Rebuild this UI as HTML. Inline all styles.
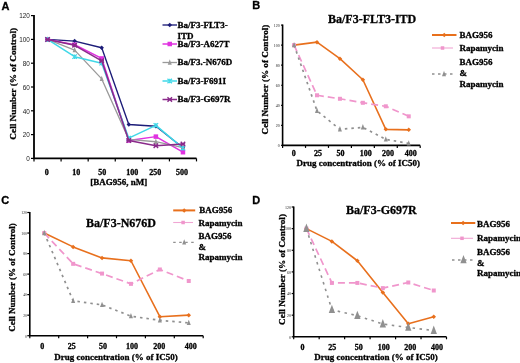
<!DOCTYPE html>
<html><head><meta charset="utf-8"><style>
html,body{margin:0;padding:0;background:#fff;}
body{width:520px;height:363px;overflow:hidden;}
svg{display:block;}
</style></head><body>
<svg width="520" height="363" viewBox="0 0 520 363">
<defs><filter id="soft" x="-5%" y="-5%" width="110%" height="110%"><feGaussianBlur stdDeviation="0.35"/></filter></defs>
<rect width="520" height="363" fill="#fff"/>
<g filter="url(#soft)">
<path d="M34,15.1V158.4H196.5" stroke="#000" stroke-width="1.8" fill="none"/>
<path d="M31,158.40H34" stroke="#000" stroke-width="1.2"/>
<text x="0" y="0" font-family='"Liberation Sans", sans-serif' font-size="8.0" text-anchor="end" fill="#222" transform="translate(29.80,161.28) scale(0.8,1)">0</text>
<path d="M31,134.60H34" stroke="#000" stroke-width="1.2"/>
<text x="0" y="0" font-family='"Liberation Sans", sans-serif' font-size="8.0" text-anchor="end" fill="#222" transform="translate(29.80,137.48) scale(0.8,1)">20</text>
<path d="M31,110.80H34" stroke="#000" stroke-width="1.2"/>
<text x="0" y="0" font-family='"Liberation Sans", sans-serif' font-size="8.0" text-anchor="end" fill="#222" transform="translate(29.80,113.68) scale(0.8,1)">40</text>
<path d="M31,87.00H34" stroke="#000" stroke-width="1.2"/>
<text x="0" y="0" font-family='"Liberation Sans", sans-serif' font-size="8.0" text-anchor="end" fill="#222" transform="translate(29.80,89.88) scale(0.8,1)">60</text>
<path d="M31,63.20H34" stroke="#000" stroke-width="1.2"/>
<text x="0" y="0" font-family='"Liberation Sans", sans-serif' font-size="8.0" text-anchor="end" fill="#222" transform="translate(29.80,66.08) scale(0.8,1)">80</text>
<path d="M31,39.40H34" stroke="#000" stroke-width="1.2"/>
<text x="0" y="0" font-family='"Liberation Sans", sans-serif' font-size="8.0" text-anchor="end" fill="#222" transform="translate(29.80,42.28) scale(0.8,1)">100</text>
<path d="M31,15.60H34" stroke="#000" stroke-width="1.2"/>
<text x="0" y="0" font-family='"Liberation Sans", sans-serif' font-size="8.0" text-anchor="end" fill="#222" transform="translate(29.80,18.48) scale(0.8,1)">120</text>
<path d="M34.00,158.4V161.4" stroke="#000" stroke-width="1.2"/>
<path d="M61.08,158.4V161.4" stroke="#000" stroke-width="1.2"/>
<path d="M88.17,158.4V161.4" stroke="#000" stroke-width="1.2"/>
<path d="M115.25,158.4V161.4" stroke="#000" stroke-width="1.2"/>
<path d="M142.33,158.4V161.4" stroke="#000" stroke-width="1.2"/>
<path d="M169.42,158.4V161.4" stroke="#000" stroke-width="1.2"/>
<path d="M196.50,158.4V161.4" stroke="#000" stroke-width="1.2"/>
<text x="46.80" y="175.00" font-family='"Liberation Serif", serif' font-weight="bold" font-size="8" text-anchor="middle" fill="#000" stroke="#000" stroke-width="0.3" >0</text>
<text x="76.20" y="175.00" font-family='"Liberation Serif", serif' font-weight="bold" font-size="8" text-anchor="middle" fill="#000" stroke="#000" stroke-width="0.3" >10</text>
<text x="102.20" y="175.00" font-family='"Liberation Serif", serif' font-weight="bold" font-size="8" text-anchor="middle" fill="#000" stroke="#000" stroke-width="0.3" >50</text>
<text x="132.30" y="175.00" font-family='"Liberation Serif", serif' font-weight="bold" font-size="8" text-anchor="middle" fill="#000" stroke="#000" stroke-width="0.3" >100</text>
<text x="155.20" y="175.00" font-family='"Liberation Serif", serif' font-weight="bold" font-size="8" text-anchor="middle" fill="#000" stroke="#000" stroke-width="0.3" >250</text>
<text x="182.00" y="175.00" font-family='"Liberation Serif", serif' font-weight="bold" font-size="8" text-anchor="middle" fill="#000" stroke="#000" stroke-width="0.3" >500</text>
<text x="90.20" y="184.80" font-family='"Liberation Serif", serif' font-weight="bold" font-size="9" text-anchor="start" fill="#000" stroke="#000" stroke-width="0.3" >[BAG956, nM]</text>
<text x="0" y="0" font-family='"Liberation Serif", serif' font-weight="bold" font-size="9.25" text-anchor="middle" transform="translate(13.2,83.8) rotate(-90)" dominant-baseline="central" stroke="#000" stroke-width="0.3">Cell Number (% of Control)</text>
<polyline points="47.54,39.40 74.62,41.07 101.71,47.73 128.79,124.48 155.88,126.27 182.96,147.69" stroke="#1c1c78" stroke-width="1.35" fill="none"  stroke-linejoin="round"/>
<polygon points="47.541666666666664,37.14999999999999 49.791666666666664,39.39999999999999 47.541666666666664,41.64999999999999 45.291666666666664,39.39999999999999" fill="#1c1c78"/>
<polygon points="74.625,38.816 76.875,41.066 74.625,43.316 72.375,41.066" fill="#1c1c78"/>
<polygon points="101.70833333333333,45.47999999999999 103.95833333333333,47.72999999999999 101.70833333333333,49.97999999999999 99.45833333333333,47.72999999999999" fill="#1c1c78"/>
<polygon points="128.79166666666666,122.235 131.04166666666666,124.485 128.79166666666666,126.735 126.54166666666666,124.485" fill="#1c1c78"/>
<polygon points="155.875,124.02000000000001 158.125,126.27000000000001 155.875,128.52 153.625,126.27000000000001" fill="#1c1c78"/>
<polygon points="182.95833333333331,145.44 185.20833333333331,147.69 182.95833333333331,149.94 180.70833333333331,147.69" fill="#1c1c78"/>
<polyline points="47.54,39.40 74.62,44.75 101.71,58.44 128.79,140.55 155.88,136.62 182.96,152.21" stroke="#e030e0" stroke-width="1.5" fill="none"  stroke-linejoin="round"/>
<rect x="45.291666666666664" y="37.14999999999999" width="4.5" height="4.5" fill="#e030e0"/>
<rect x="72.375" y="42.504999999999995" width="4.5" height="4.5" fill="#e030e0"/>
<rect x="99.45833333333333" y="56.19" width="4.5" height="4.5" fill="#e030e0"/>
<rect x="126.54166666666666" y="138.3" width="4.5" height="4.5" fill="#e030e0"/>
<rect x="153.625" y="134.373" width="4.5" height="4.5" fill="#e030e0"/>
<rect x="180.70833333333331" y="149.96200000000002" width="4.5" height="4.5" fill="#e030e0"/>
<polyline points="47.54,39.40 74.62,50.11 101.71,78.91 128.79,139.36 155.88,141.74 182.96,147.69" stroke="#9a9a9a" stroke-width="1.3" fill="none"  stroke-linejoin="round"/>
<polygon points="47.54,36.16 49.57,41.56 45.52,41.56" fill="#9a9a9a"/>
<polygon points="74.62,46.87 76.65,52.27 72.60,52.27" fill="#9a9a9a"/>
<polygon points="101.71,75.67 103.73,81.07 99.68,81.07" fill="#9a9a9a"/>
<polygon points="128.79,136.12 130.82,141.52 126.77,141.52" fill="#9a9a9a"/>
<polygon points="155.88,138.50 157.90,143.90 153.85,143.90" fill="#9a9a9a"/>
<polygon points="182.96,144.45 184.98,149.85 180.93,149.85" fill="#9a9a9a"/>
<polyline points="47.54,39.40 74.62,56.65 101.71,63.20 128.79,138.17 155.88,125.32 182.96,148.17" stroke="#40d8e8" stroke-width="1.5" fill="none"  stroke-linejoin="round"/>
<path d="M45.291666666666664,37.14999999999999L49.791666666666664,41.64999999999999M45.291666666666664,41.64999999999999L49.791666666666664,37.14999999999999M47.541666666666664,37.14999999999999V41.64999999999999" stroke="#40d8e8" stroke-width="1.2" fill="none"/>
<path d="M72.375,54.40499999999999L76.875,58.90499999999999M72.375,58.90499999999999L76.875,54.40499999999999M74.625,54.40499999999999V58.90499999999999" stroke="#40d8e8" stroke-width="1.2" fill="none"/>
<path d="M99.45833333333333,60.94999999999999L103.95833333333333,65.44999999999999M99.45833333333333,65.44999999999999L103.95833333333333,60.94999999999999M101.70833333333333,60.94999999999999V65.44999999999999" stroke="#40d8e8" stroke-width="1.2" fill="none"/>
<path d="M126.54166666666666,135.92000000000002L131.04166666666666,140.42000000000002M126.54166666666666,140.42000000000002L131.04166666666666,135.92000000000002M128.79166666666666,135.92000000000002V140.42000000000002" stroke="#40d8e8" stroke-width="1.2" fill="none"/>
<path d="M153.625,123.068L158.125,127.568M153.625,127.568L158.125,123.068M155.875,123.068V127.568" stroke="#40d8e8" stroke-width="1.2" fill="none"/>
<path d="M180.70833333333331,145.916L185.20833333333331,150.416M180.70833333333331,150.416L185.20833333333331,145.916M182.95833333333331,145.916V150.416" stroke="#40d8e8" stroke-width="1.2" fill="none"/>
<polyline points="47.54,39.40 74.62,45.35 101.71,60.82 128.79,140.55 155.88,145.67 182.96,143.88" stroke="#8a2a8a" stroke-width="1.5" fill="none"  stroke-linejoin="round"/>
<path d="M45.291666666666664,37.14999999999999L49.791666666666664,41.64999999999999M45.291666666666664,41.64999999999999L49.791666666666664,37.14999999999999M45.291666666666664,39.39999999999999H49.791666666666664" stroke="#8a2a8a" stroke-width="1.4" fill="none"/>
<path d="M72.375,43.099999999999994L76.875,47.599999999999994M72.375,47.599999999999994L76.875,43.099999999999994M72.375,45.349999999999994H76.875" stroke="#8a2a8a" stroke-width="1.4" fill="none"/>
<path d="M99.45833333333333,58.56999999999999L103.95833333333333,63.06999999999999M99.45833333333333,63.06999999999999L103.95833333333333,58.56999999999999M99.45833333333333,60.81999999999999H103.95833333333333" stroke="#8a2a8a" stroke-width="1.4" fill="none"/>
<path d="M126.54166666666666,138.3L131.04166666666666,142.8M126.54166666666666,142.8L131.04166666666666,138.3M126.54166666666666,140.55H131.04166666666666" stroke="#8a2a8a" stroke-width="1.4" fill="none"/>
<path d="M153.625,143.417L158.125,147.917M153.625,147.917L158.125,143.417M153.625,145.667H158.125" stroke="#8a2a8a" stroke-width="1.4" fill="none"/>
<path d="M180.70833333333331,141.632L185.20833333333331,146.132M180.70833333333331,146.132L185.20833333333331,141.632M180.70833333333331,143.882H185.20833333333331" stroke="#8a2a8a" stroke-width="1.4" fill="none"/>
<line x1="162.5" y1="25" x2="177" y2="25" stroke="#1c1c78" stroke-width="1.35" />
<polygon points="169.75,22.75 172.0,25 169.75,27.25 167.5,25" fill="#1c1c78"/>
<text x="177.50" y="27.97" font-family='"Liberation Serif", serif' font-weight="bold" font-size="9" text-anchor="start" fill="#000" stroke="#000" stroke-width="0.3" >Ba/F3-FLT3-</text>
<text x="177.50" y="38.97" font-family='"Liberation Serif", serif' font-weight="bold" font-size="9" text-anchor="start" fill="#000" stroke="#000" stroke-width="0.3" >ITD</text>
<line x1="162.5" y1="44" x2="177" y2="44" stroke="#e030e0" stroke-width="1.5" />
<rect x="167.5" y="41.75" width="4.5" height="4.5" fill="#e030e0"/>
<text x="177.50" y="46.97" font-family='"Liberation Serif", serif' font-weight="bold" font-size="9" text-anchor="start" fill="#000" stroke="#000" stroke-width="0.3" >Ba/F3-A627T</text>
<line x1="162.5" y1="62.5" x2="177" y2="62.5" stroke="#9a9a9a" stroke-width="1.3" />
<polygon points="169.75,59.26 171.78,64.66 167.72,64.66" fill="#9a9a9a"/>
<text x="177.50" y="65.47" font-family='"Liberation Serif", serif' font-weight="bold" font-size="9" text-anchor="start" fill="#000" stroke="#000" stroke-width="0.3" >Ba/F3.-N676D</text>
<line x1="162.5" y1="81" x2="177" y2="81" stroke="#40d8e8" stroke-width="1.5" />
<path d="M167.5,78.75L172.0,83.25M167.5,83.25L172.0,78.75M169.75,78.75V83.25" stroke="#40d8e8" stroke-width="1.2" fill="none"/>
<text x="177.50" y="83.97" font-family='"Liberation Serif", serif' font-weight="bold" font-size="9" text-anchor="start" fill="#000" stroke="#000" stroke-width="0.3" >Ba/F3-F691I</text>
<line x1="162.5" y1="99.5" x2="177" y2="99.5" stroke="#8a2a8a" stroke-width="1.5" />
<path d="M167.5,97.25L172.0,101.75M167.5,101.75L172.0,97.25M167.5,99.5H172.0" stroke="#8a2a8a" stroke-width="1.4" fill="none"/>
<text x="177.50" y="102.47" font-family='"Liberation Serif", serif' font-weight="bold" font-size="9" text-anchor="start" fill="#000" stroke="#000" stroke-width="0.3" >Ba/F3-G697R</text>
<text x="1.50" y="10.20" font-family='"Liberation Sans", sans-serif' font-weight="bold" font-size="10.2" text-anchor="start" fill="#000" stroke="#000" stroke-width="0.3" transform="translate(1.50,10.20) scale(1.08,1) translate(-1.50,-10.20)">A</text>
<path d="M282.6,24.6V145.4H420.2" stroke="#000" stroke-width="1.6" fill="none"/>
<path d="M281.1,145.40H282.6" stroke="#000" stroke-width="1.2"/>
<text x="0" y="0" font-family='"Liberation Serif", serif' font-size="5.0" text-anchor="end" fill="#222" transform="translate(279.80,147.20) scale(0.8,1)">0</text>
<path d="M281.1,125.35H282.6" stroke="#000" stroke-width="1.2"/>
<text x="0" y="0" font-family='"Liberation Serif", serif' font-size="5.0" text-anchor="end" fill="#222" transform="translate(279.80,127.15) scale(0.8,1)">20</text>
<path d="M281.1,105.30H282.6" stroke="#000" stroke-width="1.2"/>
<text x="0" y="0" font-family='"Liberation Serif", serif' font-size="5.0" text-anchor="end" fill="#222" transform="translate(279.80,107.10) scale(0.8,1)">40</text>
<path d="M281.1,85.25H282.6" stroke="#000" stroke-width="1.2"/>
<text x="0" y="0" font-family='"Liberation Serif", serif' font-size="5.0" text-anchor="end" fill="#222" transform="translate(279.80,87.05) scale(0.8,1)">60</text>
<path d="M281.1,65.20H282.6" stroke="#000" stroke-width="1.2"/>
<text x="0" y="0" font-family='"Liberation Serif", serif' font-size="5.0" text-anchor="end" fill="#222" transform="translate(279.80,67.00) scale(0.8,1)">80</text>
<path d="M281.1,45.15H282.6" stroke="#000" stroke-width="1.2"/>
<text x="0" y="0" font-family='"Liberation Serif", serif' font-size="5.0" text-anchor="end" fill="#222" transform="translate(279.80,46.95) scale(0.8,1)">100</text>
<path d="M281.1,25.10H282.6" stroke="#000" stroke-width="1.2"/>
<text x="0" y="0" font-family='"Liberation Serif", serif' font-size="5.0" text-anchor="end" fill="#222" transform="translate(279.80,26.90) scale(0.8,1)">120</text>
<path d="M282.60,145.4V147.9" stroke="#000" stroke-width="1.2"/>
<path d="M305.53,145.4V147.9" stroke="#000" stroke-width="1.2"/>
<path d="M328.47,145.4V147.9" stroke="#000" stroke-width="1.2"/>
<path d="M351.40,145.4V147.9" stroke="#000" stroke-width="1.2"/>
<path d="M374.33,145.4V147.9" stroke="#000" stroke-width="1.2"/>
<path d="M397.27,145.4V147.9" stroke="#000" stroke-width="1.2"/>
<path d="M420.20,145.4V147.9" stroke="#000" stroke-width="1.2"/>
<text x="293.75" y="156.40" font-family='"Liberation Serif", serif' font-weight="bold" font-size="8" text-anchor="middle" fill="#000" stroke="#000" stroke-width="0.3" >0</text>
<text x="318.10" y="156.40" font-family='"Liberation Serif", serif' font-weight="bold" font-size="8" text-anchor="middle" fill="#000" stroke="#000" stroke-width="0.3" >25</text>
<text x="340.60" y="156.40" font-family='"Liberation Serif", serif' font-weight="bold" font-size="8" text-anchor="middle" fill="#000" stroke="#000" stroke-width="0.3" >50</text>
<text x="365.70" y="156.40" font-family='"Liberation Serif", serif' font-weight="bold" font-size="8" text-anchor="middle" fill="#000" stroke="#000" stroke-width="0.3" >100</text>
<text x="388.00" y="156.40" font-family='"Liberation Serif", serif' font-weight="bold" font-size="8" text-anchor="middle" fill="#000" stroke="#000" stroke-width="0.3" >200</text>
<text x="410.70" y="156.40" font-family='"Liberation Serif", serif' font-weight="bold" font-size="8" text-anchor="middle" fill="#000" stroke="#000" stroke-width="0.3" >400</text>
<text x="296.50" y="166.20" font-family='"Liberation Serif", serif' font-weight="bold" font-size="9" text-anchor="start" fill="#000" stroke="#000" stroke-width="0.3" >Drug concentration (% of IC50)</text>
<text x="0" y="0" font-family='"Liberation Serif", serif' font-weight="bold" font-size="9.1" text-anchor="middle" transform="translate(265.2,79.5) rotate(-90)" dominant-baseline="central" stroke="#000" stroke-width="0.3">Cell Number (% of Control)</text>
<polyline points="294.07,45.15 317.00,42.14 339.93,58.68 362.87,79.74 385.80,129.36 408.73,129.86" stroke="#e8701e" stroke-width="1.6" fill="none"  stroke-linejoin="round"/>
<polygon points="294.06666666666666,42.89999999999999 296.31666666666666,45.14999999999999 294.06666666666666,47.39999999999999 291.81666666666666,45.14999999999999" fill="#e8701e"/>
<polygon points="317.0,39.892499999999984 319.25,42.142499999999984 317.0,44.392499999999984 314.75,42.142499999999984" fill="#e8701e"/>
<polygon points="339.93333333333334,56.43374999999999 342.18333333333334,58.68374999999999 339.93333333333334,60.93374999999999 337.68333333333334,58.68374999999999" fill="#e8701e"/>
<polygon points="362.8666666666667,77.48625 365.1166666666667,79.73625 362.8666666666667,81.98625 360.6166666666667,79.73625" fill="#e8701e"/>
<polygon points="385.8,127.11000000000001 388.05,129.36 385.8,131.61 383.55,129.36" fill="#e8701e"/>
<polygon points="408.73333333333335,127.61125000000001 410.98333333333335,129.86125 408.73333333333335,132.11125 406.48333333333335,129.86125" fill="#e8701e"/>
<polyline points="294.07,45.15 317.00,95.28 339.93,98.78 362.87,102.79 385.80,106.30 408.73,116.33" stroke="#f096cc" stroke-width="1.7" fill="none" stroke-dasharray="7,4" stroke-linejoin="round"/>
<rect x="292.06666666666666" y="43.14999999999999" width="4" height="4" fill="#f096cc"/>
<rect x="315.0" y="93.275" width="4" height="4" fill="#f096cc"/>
<rect x="337.93333333333334" y="96.78375" width="4" height="4" fill="#f096cc"/>
<rect x="360.8666666666667" y="100.79374999999999" width="4" height="4" fill="#f096cc"/>
<rect x="383.8" y="104.30250000000001" width="4" height="4" fill="#f096cc"/>
<rect x="406.73333333333335" y="114.3275" width="4" height="4" fill="#f096cc"/>
<polyline points="294.07,45.15 317.00,110.81 339.93,129.36 362.87,127.36 385.80,139.38 408.73,143.40" stroke="#909090" stroke-width="1.7" fill="none" stroke-dasharray="2.5,4" stroke-linejoin="round"/>
<polygon points="294.07,41.91 296.09,47.31 292.04,47.31" fill="#909090"/>
<polygon points="317.00,107.57 319.02,112.97 314.98,112.97" fill="#909090"/>
<polygon points="339.93,126.12 341.96,131.52 337.91,131.52" fill="#909090"/>
<polygon points="362.87,124.12 364.89,129.52 360.84,129.52" fill="#909090"/>
<polygon points="385.80,136.14 387.82,141.54 383.78,141.54" fill="#909090"/>
<polygon points="408.73,140.16 410.76,145.56 406.71,145.56" fill="#909090"/>
<line x1="432" y1="35" x2="456.5" y2="35" stroke="#e8701e" stroke-width="2.0" />
<polygon points="444.25,32.75 446.5,35 444.25,37.25 442.0,35" fill="#e8701e"/>
<text x="459.50" y="37.97" font-family='"Liberation Serif", serif' font-weight="bold" font-size="9" text-anchor="start" fill="#000" stroke="#000" stroke-width="0.3" >BAG956</text>
<line x1="432" y1="48" x2="453" y2="48" stroke="#f0a6d4" stroke-width="1.1" />
<rect x="440.75" y="46.25" width="3.5" height="3.5" fill="#f096cc"/>
<text x="459.50" y="50.67" font-family='"Liberation Serif", serif' font-weight="bold" font-size="9" text-anchor="start" fill="#000" stroke="#000" stroke-width="0.3" >Rapamycin</text>
<line x1="432" y1="74" x2="456" y2="74" stroke="#909090" stroke-width="1.4" stroke-dasharray="2.5,3.5"/>
<polygon points="444.00,70.76 446.02,76.16 441.98,76.16" fill="#909090"/>
<text x="459.50" y="64.77" font-family='"Liberation Serif", serif' font-weight="bold" font-size="9" text-anchor="start" fill="#000" stroke="#000" stroke-width="0.3" >BAG956</text>
<text x="459.50" y="75.87" font-family='"Liberation Serif", serif' font-weight="bold" font-size="9" text-anchor="start" fill="#000" stroke="#000" stroke-width="0.3" >&amp;</text>
<text x="459.50" y="86.87" font-family='"Liberation Serif", serif' font-weight="bold" font-size="9" text-anchor="start" fill="#000" stroke="#000" stroke-width="0.3" >Rapamycin</text>
<text x="328.00" y="23.20" font-family='"Liberation Serif", serif' font-weight="bold" font-size="12" text-anchor="start" fill="#000" stroke="#000" stroke-width="0.3" >Ba/F3-FLT3-ITD</text>
<text x="252.20" y="9.30" font-family='"Liberation Sans", sans-serif' font-weight="bold" font-size="10.2" text-anchor="start" fill="#000" stroke="#000" stroke-width="0.3" transform="translate(252.20,9.30) scale(1.08,1) translate(-252.20,-9.30)">B</text>
<path d="M29.8,212.0V335.7H203.2" stroke="#000" stroke-width="1.6" fill="none"/>
<path d="M27.3,335.70H29.8" stroke="#000" stroke-width="1.2"/>
<text x="0" y="0" font-family='"Liberation Serif", serif' font-size="5.0" text-anchor="end" fill="#222" transform="translate(26.90,337.50) scale(0.75,1)">0</text>
<path d="M27.3,315.17H29.8" stroke="#000" stroke-width="1.2"/>
<text x="0" y="0" font-family='"Liberation Serif", serif' font-size="5.0" text-anchor="end" fill="#222" transform="translate(26.90,316.97) scale(0.75,1)">20</text>
<path d="M27.3,294.63H29.8" stroke="#000" stroke-width="1.2"/>
<text x="0" y="0" font-family='"Liberation Serif", serif' font-size="5.0" text-anchor="end" fill="#222" transform="translate(26.90,296.43) scale(0.75,1)">40</text>
<path d="M27.3,274.10H29.8" stroke="#000" stroke-width="1.2"/>
<text x="0" y="0" font-family='"Liberation Serif", serif' font-size="5.0" text-anchor="end" fill="#222" transform="translate(26.90,275.90) scale(0.75,1)">60</text>
<path d="M27.3,253.57H29.8" stroke="#000" stroke-width="1.2"/>
<text x="0" y="0" font-family='"Liberation Serif", serif' font-size="5.0" text-anchor="end" fill="#222" transform="translate(26.90,255.37) scale(0.75,1)">80</text>
<path d="M27.3,233.03H29.8" stroke="#000" stroke-width="1.2"/>
<text x="0" y="0" font-family='"Liberation Serif", serif' font-size="5.0" text-anchor="end" fill="#222" transform="translate(26.90,234.83) scale(0.75,1)">100</text>
<path d="M27.3,212.50H29.8" stroke="#000" stroke-width="1.2"/>
<text x="0" y="0" font-family='"Liberation Serif", serif' font-size="5.0" text-anchor="end" fill="#222" transform="translate(26.90,214.30) scale(0.75,1)">120</text>
<path d="M29.80,335.7V338.2" stroke="#000" stroke-width="1.2"/>
<path d="M58.70,335.7V338.2" stroke="#000" stroke-width="1.2"/>
<path d="M87.60,335.7V338.2" stroke="#000" stroke-width="1.2"/>
<path d="M116.50,335.7V338.2" stroke="#000" stroke-width="1.2"/>
<path d="M145.40,335.7V338.2" stroke="#000" stroke-width="1.2"/>
<path d="M174.30,335.7V338.2" stroke="#000" stroke-width="1.2"/>
<path d="M203.20,335.7V338.2" stroke="#000" stroke-width="1.2"/>
<text x="42.30" y="348.80" font-family='"Liberation Serif", serif' font-weight="bold" font-size="8" text-anchor="middle" fill="#000" stroke="#000" stroke-width="0.3" >0</text>
<text x="71.80" y="348.80" font-family='"Liberation Serif", serif' font-weight="bold" font-size="8" text-anchor="middle" fill="#000" stroke="#000" stroke-width="0.3" >25</text>
<text x="103.10" y="348.80" font-family='"Liberation Serif", serif' font-weight="bold" font-size="8" text-anchor="middle" fill="#000" stroke="#000" stroke-width="0.3" >50</text>
<text x="132.00" y="348.80" font-family='"Liberation Serif", serif' font-weight="bold" font-size="8" text-anchor="middle" fill="#000" stroke="#000" stroke-width="0.3" >100</text>
<text x="159.30" y="348.80" font-family='"Liberation Serif", serif' font-weight="bold" font-size="8" text-anchor="middle" fill="#000" stroke="#000" stroke-width="0.3" >200</text>
<text x="190.70" y="348.80" font-family='"Liberation Serif", serif' font-weight="bold" font-size="8" text-anchor="middle" fill="#000" stroke="#000" stroke-width="0.3" >400</text>
<text x="54.30" y="359.60" font-family='"Liberation Serif", serif' font-weight="bold" font-size="9" text-anchor="start" fill="#000" stroke="#000" stroke-width="0.3" >Drug concentration (% of IC50)</text>
<text x="0" y="0" font-family='"Liberation Serif", serif' font-weight="bold" font-size="9" text-anchor="middle" transform="translate(12,277.5) rotate(-90)" dominant-baseline="central" stroke="#000" stroke-width="0.3">Cell Number (% of Control)</text>
<polyline points="44.25,233.03 73.15,246.89 102.05,257.88 130.95,260.75 159.85,316.71 188.75,315.17" stroke="#e8701e" stroke-width="1.6" fill="none"  stroke-linejoin="round"/>
<polygon points="44.25,230.78333333333333 46.5,233.03333333333333 44.25,235.28333333333333 42.0,233.03333333333333" fill="#e8701e"/>
<polygon points="73.14999999999999,244.64333333333332 75.39999999999999,246.89333333333332 73.14999999999999,249.14333333333332 70.89999999999999,246.89333333333332" fill="#e8701e"/>
<polygon points="102.04999999999998,255.62866666666667 104.29999999999998,257.8786666666667 102.04999999999998,260.1286666666667 99.79999999999998,257.8786666666667" fill="#e8701e"/>
<polygon points="130.95,258.50333333333333 133.2,260.75333333333333 130.95,263.00333333333333 128.7,260.75333333333333" fill="#e8701e"/>
<polygon points="159.85,314.45666666666665 162.1,316.70666666666665 159.85,318.95666666666665 157.6,316.70666666666665" fill="#e8701e"/>
<polygon points="188.74999999999997,312.91666666666663 190.99999999999997,315.16666666666663 188.74999999999997,317.41666666666663 186.49999999999997,315.16666666666663" fill="#e8701e"/>
<polyline points="44.25,233.03 73.15,263.83 102.05,273.59 130.95,283.85 159.85,269.48 188.75,280.98" stroke="#f096cc" stroke-width="1.7" fill="none" stroke-dasharray="7,4" stroke-linejoin="round"/>
<rect x="42.25" y="231.03333333333333" width="4" height="4" fill="#f096cc"/>
<rect x="71.14999999999999" y="261.8333333333333" width="4" height="4" fill="#f096cc"/>
<rect x="100.04999999999998" y="271.58666666666664" width="4" height="4" fill="#f096cc"/>
<rect x="128.95" y="281.85333333333335" width="4" height="4" fill="#f096cc"/>
<rect x="157.85" y="267.48" width="4" height="4" fill="#f096cc"/>
<rect x="186.74999999999997" y="278.97866666666664" width="4" height="4" fill="#f096cc"/>
<polyline points="44.25,233.03 73.15,300.79 102.05,304.90 130.95,316.19 159.85,320.30 188.75,322.87" stroke="#909090" stroke-width="1.7" fill="none" stroke-dasharray="2.5,4" stroke-linejoin="round"/>
<polygon points="44.25,229.79 46.27,235.19 42.23,235.19" fill="#909090"/>
<polygon points="73.15,297.55 75.17,302.95 71.12,302.95" fill="#909090"/>
<polygon points="102.05,301.66 104.07,307.06 100.02,307.06" fill="#909090"/>
<polygon points="130.95,312.95 132.97,318.35 128.92,318.35" fill="#909090"/>
<polygon points="159.85,317.06 161.88,322.46 157.82,322.46" fill="#909090"/>
<polygon points="188.75,319.63 190.77,325.03 186.72,325.03" fill="#909090"/>
<line x1="173.2" y1="210.4" x2="195.2" y2="210.4" stroke="#e8701e" stroke-width="2.0" />
<polygon points="184.2,208.15 186.45,210.4 184.2,212.65 181.95,210.4" fill="#e8701e"/>
<text x="199.30" y="213.37" font-family='"Liberation Serif", serif' font-weight="bold" font-size="9" text-anchor="start" fill="#000" stroke="#000" stroke-width="0.3" >BAG956</text>
<line x1="173.2" y1="222.5" x2="193" y2="222.5" stroke="#f0a6d4" stroke-width="1.1" />
<rect x="181.35" y="220.75" width="3.5" height="3.5" fill="#f096cc"/>
<text x="198.50" y="226.17" font-family='"Liberation Serif", serif' font-weight="bold" font-size="9" text-anchor="start" fill="#000" stroke="#000" stroke-width="0.3" >Rapamycin</text>
<line x1="173.2" y1="242.4" x2="195.2" y2="242.4" stroke="#909090" stroke-width="1.4" stroke-dasharray="2.5,3.5"/>
<polygon points="184.20,239.16 186.22,244.56 182.17,244.56" fill="#909090"/>
<text x="198.50" y="238.67" font-family='"Liberation Serif", serif' font-weight="bold" font-size="9" text-anchor="start" fill="#000" stroke="#000" stroke-width="0.3" >BAG956</text>
<text x="198.50" y="249.77" font-family='"Liberation Serif", serif' font-weight="bold" font-size="9" text-anchor="start" fill="#000" stroke="#000" stroke-width="0.3" >&amp;</text>
<text x="198.50" y="260.27" font-family='"Liberation Serif", serif' font-weight="bold" font-size="9" text-anchor="start" fill="#000" stroke="#000" stroke-width="0.3" >Rapamycin</text>
<text x="86.00" y="227.20" font-family='"Liberation Serif", serif' font-weight="bold" font-size="12" text-anchor="start" fill="#000" stroke="#000" stroke-width="0.3" >Ba/F3-N676D</text>
<text x="1.30" y="204.30" font-family='"Liberation Sans", sans-serif' font-weight="bold" font-size="10.2" text-anchor="start" fill="#000" stroke="#000" stroke-width="0.3" transform="translate(1.30,204.30) scale(1.08,1) translate(-1.30,-204.30)">C</text>
<path d="M293.7,206.5V336.8H446.5" stroke="#000" stroke-width="1.6" fill="none"/>
<path d="M291.7,336.80H293.7" stroke="#000" stroke-width="1.2"/>
<text x="0" y="0" font-family='"Liberation Serif", serif' font-size="5.0" text-anchor="end" fill="#222" transform="translate(290.90,338.60) scale(0.8,1)">0</text>
<path d="M291.7,315.17H293.7" stroke="#000" stroke-width="1.2"/>
<text x="0" y="0" font-family='"Liberation Serif", serif' font-size="5.0" text-anchor="end" fill="#222" transform="translate(290.90,316.97) scale(0.8,1)">20</text>
<path d="M291.7,293.53H293.7" stroke="#000" stroke-width="1.2"/>
<text x="0" y="0" font-family='"Liberation Serif", serif' font-size="5.0" text-anchor="end" fill="#222" transform="translate(290.90,295.33) scale(0.8,1)">40</text>
<path d="M291.7,271.90H293.7" stroke="#000" stroke-width="1.2"/>
<text x="0" y="0" font-family='"Liberation Serif", serif' font-size="5.0" text-anchor="end" fill="#222" transform="translate(290.90,273.70) scale(0.8,1)">60</text>
<path d="M291.7,250.27H293.7" stroke="#000" stroke-width="1.2"/>
<text x="0" y="0" font-family='"Liberation Serif", serif' font-size="5.0" text-anchor="end" fill="#222" transform="translate(290.90,252.07) scale(0.8,1)">80</text>
<path d="M291.7,228.63H293.7" stroke="#000" stroke-width="1.2"/>
<text x="0" y="0" font-family='"Liberation Serif", serif' font-size="5.0" text-anchor="end" fill="#222" transform="translate(290.90,230.43) scale(0.8,1)">100</text>
<path d="M291.7,207.00H293.7" stroke="#000" stroke-width="1.2"/>
<text x="0" y="0" font-family='"Liberation Serif", serif' font-size="5.0" text-anchor="end" fill="#222" transform="translate(290.90,208.80) scale(0.8,1)">120</text>
<path d="M293.70,336.8V339.3" stroke="#000" stroke-width="1.2"/>
<path d="M319.17,336.8V339.3" stroke="#000" stroke-width="1.2"/>
<path d="M344.63,336.8V339.3" stroke="#000" stroke-width="1.2"/>
<path d="M370.10,336.8V339.3" stroke="#000" stroke-width="1.2"/>
<path d="M395.57,336.8V339.3" stroke="#000" stroke-width="1.2"/>
<path d="M421.03,336.8V339.3" stroke="#000" stroke-width="1.2"/>
<path d="M446.50,336.8V339.3" stroke="#000" stroke-width="1.2"/>
<text x="302.50" y="349.80" font-family='"Liberation Serif", serif' font-weight="bold" font-size="8" text-anchor="middle" fill="#000" stroke="#000" stroke-width="0.3" >0</text>
<text x="332.20" y="349.80" font-family='"Liberation Serif", serif' font-weight="bold" font-size="8" text-anchor="middle" fill="#000" stroke="#000" stroke-width="0.3" >25</text>
<text x="358.80" y="349.80" font-family='"Liberation Serif", serif' font-weight="bold" font-size="8" text-anchor="middle" fill="#000" stroke="#000" stroke-width="0.3" >50</text>
<text x="383.70" y="349.80" font-family='"Liberation Serif", serif' font-weight="bold" font-size="8" text-anchor="middle" fill="#000" stroke="#000" stroke-width="0.3" >100</text>
<text x="410.20" y="349.80" font-family='"Liberation Serif", serif' font-weight="bold" font-size="8" text-anchor="middle" fill="#000" stroke="#000" stroke-width="0.3" >200</text>
<text x="437.00" y="349.80" font-family='"Liberation Serif", serif' font-weight="bold" font-size="8" text-anchor="middle" fill="#000" stroke="#000" stroke-width="0.3" >400</text>
<text x="314.30" y="360.00" font-family='"Liberation Serif", serif' font-weight="bold" font-size="9" text-anchor="start" fill="#000" stroke="#000" stroke-width="0.3" >Drug concentration (% of IC50)</text>
<text x="0" y="0" font-family='"Liberation Serif", serif' font-weight="bold" font-size="9.2" text-anchor="middle" transform="translate(282.0,269.5) rotate(-90)" dominant-baseline="central" stroke="#000" stroke-width="0.3">Cell Number (% of Control)</text>
<polyline points="306.43,228.63 331.90,241.40 357.37,260.76 382.83,292.45 408.30,323.71 433.77,316.79" stroke="#e8701e" stroke-width="1.6" fill="none"  stroke-linejoin="round"/>
<polygon points="306.43333333333334,226.38333333333333 308.68333333333334,228.63333333333333 306.43333333333334,230.88333333333333 304.18333333333334,228.63333333333333" fill="#e8701e"/>
<polygon points="331.9,239.147 334.15,241.397 331.9,243.647 329.65,241.397" fill="#e8701e"/>
<polygon points="357.3666666666667,258.5088333333333 359.6166666666667,260.7588333333333 357.3666666666667,263.0088333333333 355.1166666666667,260.7588333333333" fill="#e8701e"/>
<polygon points="382.8333333333333,290.20166666666665 385.0833333333333,292.45166666666665 382.8333333333333,294.70166666666665 380.5833333333333,292.45166666666665" fill="#e8701e"/>
<polygon points="408.3,321.46183333333335 410.55,323.71183333333335 408.3,325.96183333333335 406.05,323.71183333333335" fill="#e8701e"/>
<polygon points="433.76666666666665,314.5391666666667 436.01666666666665,316.7891666666667 433.76666666666665,319.0391666666667 431.51666666666665,316.7891666666667" fill="#e8701e"/>
<polyline points="306.43,228.63 331.90,282.93 357.37,282.93 382.83,288.12 408.30,282.50 433.77,290.50" stroke="#f096cc" stroke-width="1.7" fill="none" stroke-dasharray="7,4" stroke-linejoin="round"/>
<rect x="304.43333333333334" y="226.63333333333333" width="4" height="4" fill="#f096cc"/>
<rect x="329.9" y="280.933" width="4" height="4" fill="#f096cc"/>
<rect x="355.3666666666667" y="280.933" width="4" height="4" fill="#f096cc"/>
<rect x="380.8333333333333" y="286.125" width="4" height="4" fill="#f096cc"/>
<rect x="406.3" y="280.50033333333334" width="4" height="4" fill="#f096cc"/>
<rect x="431.76666666666665" y="288.5046666666667" width="4" height="4" fill="#f096cc"/>
<polyline points="306.43,228.63 331.90,309.76 357.37,315.71 382.83,324.04 408.30,327.50 433.77,330.53" stroke="#909090" stroke-width="1.6" fill="none" stroke-dasharray="2.5,4.5" stroke-linejoin="round"/>
<polygon points="306.43,223.59 309.58,231.99 303.28,231.99" fill="#909090"/>
<polygon points="331.90,304.72 335.05,313.12 328.75,313.12" fill="#909090"/>
<polygon points="357.37,310.67 360.52,319.07 354.22,319.07" fill="#909090"/>
<polygon points="382.83,319.00 385.98,327.40 379.68,327.40" fill="#909090"/>
<polygon points="408.30,322.46 411.45,330.86 405.15,330.86" fill="#909090"/>
<polygon points="433.77,325.49 436.92,333.89 430.62,333.89" fill="#909090"/>
<line x1="451" y1="223.0" x2="475.3" y2="223.0" stroke="#e8701e" stroke-width="2.0" />
<polygon points="463.15,220.75 465.4,223.0 463.15,225.25 460.9,223.0" fill="#e8701e"/>
<text x="477.00" y="226.67" font-family='"Liberation Serif", serif' font-weight="bold" font-size="9" text-anchor="start" fill="#000" stroke="#000" stroke-width="0.3" >BAG956</text>
<line x1="451" y1="238.3" x2="473" y2="238.3" stroke="#f0a6d4" stroke-width="1.1" />
<rect x="460.25" y="236.55" width="3.5" height="3.5" fill="#f096cc"/>
<text x="477.00" y="240.97" font-family='"Liberation Serif", serif' font-weight="bold" font-size="9" text-anchor="start" fill="#000" stroke="#000" stroke-width="0.3" >Rapamycin</text>
<line x1="452" y1="260" x2="475" y2="260" stroke="#909090" stroke-width="1.4" stroke-dasharray="2.5,3.5"/>
<polygon points="463.50,254.96 466.65,263.36 460.35,263.36" fill="#909090"/>
<text x="477.00" y="255.37" font-family='"Liberation Serif", serif' font-weight="bold" font-size="9" text-anchor="start" fill="#000" stroke="#000" stroke-width="0.3" >BAG956</text>
<text x="477.00" y="265.97" font-family='"Liberation Serif", serif' font-weight="bold" font-size="9" text-anchor="start" fill="#000" stroke="#000" stroke-width="0.3" >&amp;</text>
<text x="477.00" y="276.27" font-family='"Liberation Serif", serif' font-weight="bold" font-size="9" text-anchor="start" fill="#000" stroke="#000" stroke-width="0.3" >Rapamycin</text>
<text x="346.00" y="214.00" font-family='"Liberation Serif", serif' font-weight="bold" font-size="12" text-anchor="start" fill="#000" stroke="#000" stroke-width="0.3" >Ba/F3-G697R</text>
<text x="252.20" y="204.30" font-family='"Liberation Sans", sans-serif' font-weight="bold" font-size="10.2" text-anchor="start" fill="#000" stroke="#000" stroke-width="0.3" transform="translate(252.20,204.30) scale(1.08,1) translate(-252.20,-204.30)">D</text>
</g>
</svg>
</body></html>
